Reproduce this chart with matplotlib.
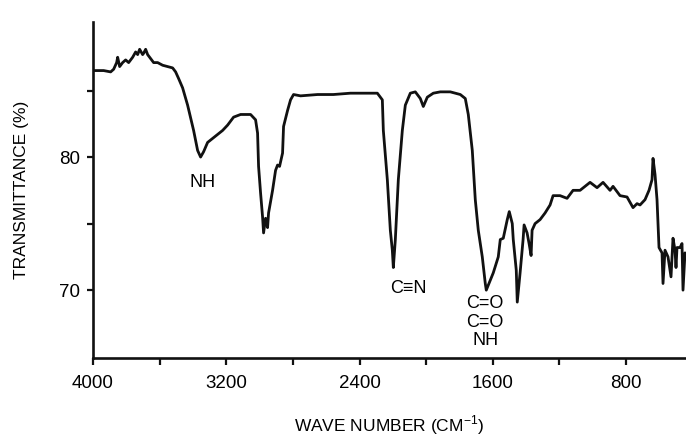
import numpy as np
import matplotlib
matplotlib.use('Agg')
import matplotlib.pyplot as plt

# espectro IR (numero de onda cm-1, transmitancia %)
numero_onda = [3996, 3936, 3894, 3876, 3858, 3852, 3840, 3822, 3804, 3786,
               3762, 3744, 3732, 3720, 3702, 3696, 3684, 3672, 3654, 3636,
               3612, 3582, 3552, 3522, 3504, 3486, 3462, 3432, 3396, 3372,
               3354, 3336, 3312, 3282, 3252, 3222, 3192, 3156, 3114, 3054,
               3024, 3012, 3006, 2994, 2982, 2976, 2964, 2952, 2946, 2922,
               2904, 2892, 2880, 2862, 2856, 2832, 2814, 2796, 2754, 2652,
               2557, 2455, 2365, 2293, 2263, 2257, 2233, 2215, 2203, 2197,
               2185, 2167, 2143, 2125, 2095, 2065, 2035, 2017, 1993, 1957,
               1915, 1855, 1795, 1765, 1747, 1723, 1705, 1687, 1663, 1645,
               1639, 1597, 1567, 1555, 1537, 1513, 1501, 1483, 1477, 1459,
               1453, 1436, 1418, 1412, 1394, 1382, 1370, 1364, 1346, 1316,
               1286, 1256, 1238, 1196, 1154, 1118, 1076, 1016, 974, 938,
               896, 878, 836, 794, 758, 734, 716, 686, 662, 644,
               638, 626, 614, 602, 584, 578, 566, 548, 530, 518,
               506, 500, 494, 476, 464, 458, 446, 440]
transmitancia = [86.5, 86.5, 86.4, 86.6, 87.1, 87.5, 86.8, 87.1, 87.3, 87.1,
                 87.5, 87.9, 87.7, 88.1, 87.7, 87.8, 88.1, 87.7, 87.4, 87.1,
                 87.1, 86.9, 86.8, 86.7, 86.4, 85.9, 85.2, 83.9, 82.0, 80.5,
                 80.0, 80.4, 81.1, 81.4, 81.7, 82.0, 82.4, 83.0, 83.2, 83.2,
                 82.8, 81.8, 79.3, 77.3, 75.5, 74.3, 75.4, 74.7, 75.8, 77.5,
                 79.0, 79.4, 79.3, 80.3, 82.3, 83.5, 84.3, 84.7, 84.6, 84.7,
                 84.7, 84.8, 84.8, 84.8, 84.3, 82.0, 78.3, 74.5, 73.0, 71.7,
                 73.8, 78.3, 82.0, 83.9, 84.8, 84.9, 84.4, 83.8, 84.5, 84.8,
                 84.9, 84.9, 84.7, 84.4, 83.2, 80.5, 76.8, 74.5, 72.5, 70.5,
                 70.0, 71.3, 72.5, 73.8, 73.9, 75.3, 75.9, 75.0, 73.8, 71.5,
                 69.1, 71.3, 73.8, 74.9, 74.3, 73.5, 72.6, 74.5, 75.0, 75.3,
                 75.8, 76.4, 77.1, 77.1, 76.9, 77.5, 77.5, 78.1, 77.7, 78.1,
                 77.5, 77.8, 77.1, 77.0, 76.2, 76.5, 76.4, 76.8, 77.5, 78.3,
                 79.9, 78.7, 76.8, 73.2, 72.8, 70.5, 73.0, 72.5, 71.0, 73.9,
                 73.0, 71.7, 73.2, 73.2, 73.5, 70.0, 72.8, 72.6]

plt.rcParams['font.family'] = ['Liberation Sans', 'DejaVu Sans']
plt.rcParams['mathtext.fontset'] = 'custom'
plt.rcParams['mathtext.rm'] = 'Liberation Sans'

fig = plt.figure(figsize=(6.86, 4.38), dpi=100)
ax = fig.add_axes([93 / 686, 1 - 358 / 438, 593 / 686, 336 / 438])

ax.plot(numero_onda, transmitancia, color='#111111', linewidth=2.0)

ax.set_xlim(4000, 440)
ax.set_ylim(64.9, 90.15)

ax.set_xticks([4000, 3200, 2400, 1600, 800])
ax.set_xticks([3600, 2800, 2000, 1200], minor=True)
ax.set_yticks([70, 80])
ax.set_yticks([75, 85], minor=True)

ax.spines['top'].set_visible(False)
ax.spines['right'].set_visible(False)
for s in ['left', 'bottom']:
    ax.spines[s].set_linewidth(1.9)
    ax.spines[s].set_color('#111111')

ax.tick_params(axis='x', which='both', direction='out', length=5, width=1.6,
               labelsize=13.5, pad=7, color='#111111')
ax.tick_params(axis='y', which='both', direction='out', length=4.5, width=1.6,
               labelsize=13.5, pad=5, color='#111111')
ax.tick_params(which='minor', labelsize=0)

ax.set_xlabel(r'WAVE NUMBER (CM$^{-1}$)', fontsize=12.5)
ax.set_ylabel('TRANSMITTANCE (%)', fontsize=12.5)
ax.xaxis.set_label_coords(0.5, -0.165)
ax.yaxis.set_label_coords(-0.108, 0.5)

# rotulos dos picos
ax.text(3342, 78.1, 'NH', fontsize=13, ha='center', va='center')
ax.text(2107, 70.15, 'C\u2261N', fontsize=13, ha='center', va='center')
ax.text(1646, 69.0, 'C=O', fontsize=13, ha='center', va='center')
ax.text(1646, 67.6, 'C=O', fontsize=13, ha='center', va='center')
ax.text(1646, 66.2, 'NH', fontsize=13, ha='center', va='center')

fig.savefig('out.png', dpi=100)
